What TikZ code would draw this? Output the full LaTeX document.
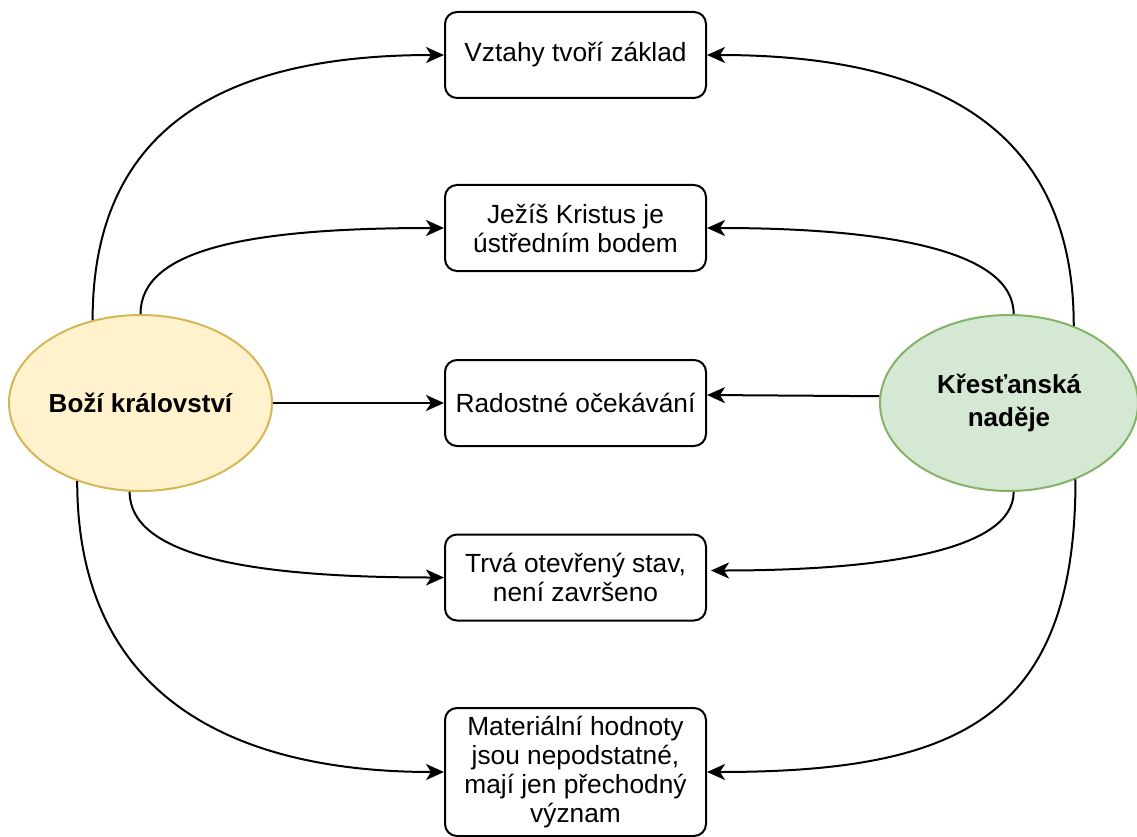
\documentclass[tikz,border=0pt]{standalone}
\usepackage{fontspec}
\setmainfont{Liberation Sans}
\usetikzlibrary{shapes.geometric,arrows.meta,calc}
\definecolor{yfill}{HTML}{FFF2CC}
\definecolor{ydraw}{HTML}{D6B656}
\definecolor{gfill}{HTML}{D5E8D4}
\definecolor{gdraw}{HTML}{82B366}
\begin{document}
\begin{tikzpicture}[x=1pt,y=-1pt,
  every node/.style={font=\fontsize{26.3}{29}\selectfont},
  stepbox/.style={draw=black, line width=2pt, rounded corners=12pt, minimum width=261pt, minimum height=86pt, inner sep=0pt, align=center, fill=white},
  hub/.style={ellipse, line width=2pt, minimum width=263pt, minimum height=176pt, inner sep=0pt, align=center, font=\fontsize{26}{33}\selectfont\bfseries},
  conn/.style={line width=2pt, -{Stealth[length=18pt, width=16pt, inset=5pt]}}]
\useasboundingbox (0,0) rectangle (1137,837);
\node[hub, fill=yfill, draw=ydraw] (L) at (140.5,403) {Boží království};
\node[hub, fill=gfill, draw=gdraw, minimum width=258pt] (R) at (1009,403) {Křesťanská\\naděje};
\node[stepbox] (b1) at (575.5,55) {Vztahy tvoří základ};
\node[stepbox] (b2) at (575.5,228) {Ježíš Kristus je\\ústředním bodem};
\node[stepbox] (b3) at (575.5,403) {Radostné očekávání};
\node[stepbox] (b4) at (575.5,577.5) {Trvá otevřený stav,\\není završeno};
\node[stepbox, minimum height=128pt] (b5) at (575.5,772) {Materiální hodnoty\\jsou nepodstatné,\\mají jen přechodný\\význam};
% left connectors
\draw[conn] (L.120.7) .. controls +(0,-200) and +(-210,0) .. (b1.west);
\draw[conn] (L.north) .. controls +(0,-65) and +(-195,0) .. (b2.west);
\draw[conn] (L.east) -- (b3.west);
\draw[conn] (L.263.8) .. controls +(0,64) and +(-195,0) .. (b4.west);
\draw[conn] (L.231.1) .. controls +(0,215) and +(-212,0) .. (b5.west);
% right connectors
\draw[conn] (R.50) .. controls +(0,-200) and +(225,0) .. (b1.east);
\draw[conn] (R.87.4) .. controls +(0,-65) and +(174,0) .. (b2.east);
\draw[conn] (R.177.3) -- ($(b3.east)+(0,-8)$);
\draw[conn] (R.273.9) .. controls +(0,59) and +(170,0) .. ($(b4.east)+(4,-7)$);
\draw[conn] (R.311.1) .. controls +(0,240) and +(250,0) .. (b5.east);
\end{tikzpicture}
\end{document}
